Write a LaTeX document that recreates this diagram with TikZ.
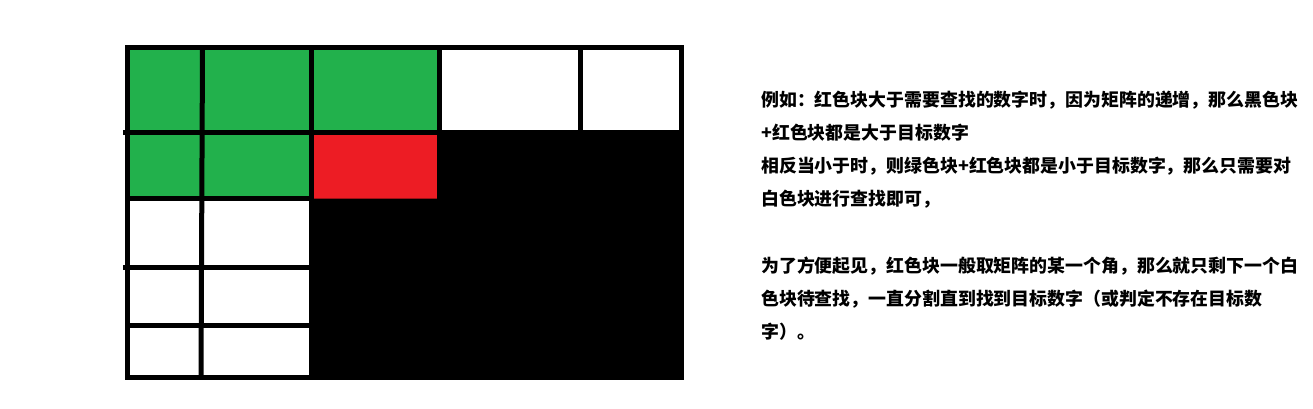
\documentclass[tikz,border=0pt]{standalone}
\usepackage{fontspec}
\newfontfamily\cjk{Noto Sans CJK SC}
\usetikzlibrary{positioning}
\definecolor{mgreen}{RGB}{34,177,76}
\definecolor{mred}{RGB}{237,28,36}
\tikzstyle{gridline} = [line width=5pt, color=black]
\tikzstyle{note} = [anchor=west, inner sep=0pt, font=\cjk\bfseries\fontsize{17.9}{20}\selectfont]
\begin{document}
\begin{tikzpicture}[x=1pt,y=-1pt]
\useasboundingbox (0,0) rectangle (1313,409);
% Coloured blocks
\fill[mgreen] (127.5,47.5) rectangle (439,198.5);
\fill[mred] (311,132) rectangle (439,198.5);
\fill[black] (439,132) -- (681.5,132) -- (681.5,377.5) -- (311,377.5) -- (311,198.5) -- (439,198.5) -- cycle;

% Grid lines
\draw[gridline] (127.5,47.5) rectangle (681.5,377.5);
\draw[gridline] (202.5,47.5) -- (201,377.5);
\draw[gridline] (311,47.5) -- (311,377.5);
\draw[gridline] (439,47.5) -- (439,198.5);
\draw[gridline] (580,47.5) -- (580,132);
\draw[gridline] (123,132) -- (681.5,132);
\draw[gridline] (127.5,198.5) -- (311,198.5);
\draw[gridline] (123,267.5) -- (311,267.5);
\draw[gridline] (127.5,325.5) -- (311,325.5);

% Explanation
\node (l1) [note] at (761,100) {例如：红色块大于需要查找的数字时，因为矩阵的递增，那么黑色块};
\node (l2) [note] at (761,133) {+红色块都是大于目标数字};
\node (l3) [note] at (761,166) {相反当小于时，则绿色块+红色块都是小于目标数字，那么只需要对};
\node (l4) [note] at (761,199) {白色块进行查找即可，};
\node (l5) [note] at (761,266) {为了方便起见，红色块一般取矩阵的某一个角，那么就只剩下一个白};
\node (l6) [note] at (761,299) {色块待查找，一直分割直到找到目标数字（或判定不存在目标数};
\node (l7) [note] at (761,332) {字）。};
\end{tikzpicture}
\end{document}
